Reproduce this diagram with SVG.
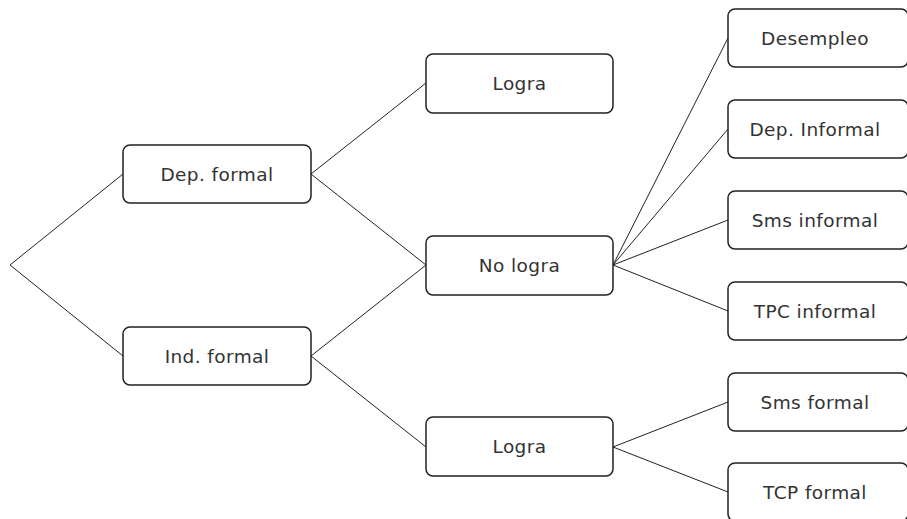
<svg xmlns="http://www.w3.org/2000/svg" width="907" height="519" viewBox="0 0 907 519">
<style>
.box{fill:#fff;stroke:#222;stroke-width:1.5}
.lbl{font-family:"DejaVu Sans","Liberation Sans",sans-serif;font-size:18.5px;fill:#333;text-anchor:middle;letter-spacing:0.4px}
.con{stroke:#222;stroke-width:1;fill:none}
</style>
<rect width="907" height="519" fill="#fff"/>
<g id="connectors" class="con">
<polyline points="123,174 10,265 123,356"/>
<polyline points="426,83 311,174 426,265"/>
<polyline points="426,265 311,356 426,447"/>
<line x1="613" y1="265" x2="728" y2="38"/>
<line x1="613" y1="265" x2="728" y2="129"/>
<line x1="613" y1="265" x2="728" y2="220"/>
<line x1="613" y1="265" x2="728" y2="311"/>
<line x1="613" y1="447" x2="728" y2="402"/>
<line x1="613" y1="447" x2="728" y2="492"/>
</g>
<g id="dep-formal"><rect class="box" x="123" y="145" width="188" height="58" rx="7"/><text class="lbl" x="217" y="181">Dep. formal</text></g>
<g id="ind-formal"><rect class="box" x="123" y="327" width="188" height="58" rx="7"/><text class="lbl" x="217" y="363">Ind. formal</text></g>
<g id="logra-1"><rect class="box" x="426" y="54" width="187" height="59" rx="7"/><text class="lbl" x="519.5" y="90">Logra</text></g>
<g id="no-logra"><rect class="box" x="426" y="236" width="187" height="59" rx="7"/><text class="lbl" x="519.5" y="272">No logra</text></g>
<g id="logra-2"><rect class="box" x="426" y="417" width="187" height="59" rx="7"/><text class="lbl" x="519.5" y="453">Logra</text></g>
<g id="desempleo"><rect class="box" x="728" y="9" width="180" height="58" rx="7"/><text class="lbl" x="815" y="45">Desempleo</text></g>
<g id="dep-informal"><rect class="box" x="728" y="100" width="180" height="58" rx="7"/><text class="lbl" x="815" y="136">Dep. Informal</text></g>
<g id="sms-informal"><rect class="box" x="728" y="191" width="180" height="58" rx="7"/><text class="lbl" x="815" y="227">Sms informal</text></g>
<g id="tpc-informal"><rect class="box" x="728" y="282" width="180" height="58" rx="7"/><text class="lbl" x="815" y="318">TPC informal</text></g>
<g id="sms-formal"><rect class="box" x="728" y="373" width="180" height="58" rx="7"/><text class="lbl" x="815" y="409">Sms formal</text></g>
<g id="tcp-formal"><rect class="box" x="728" y="463" width="180" height="58" rx="7"/><text class="lbl" x="815" y="499">TCP formal</text></g>
</svg>
